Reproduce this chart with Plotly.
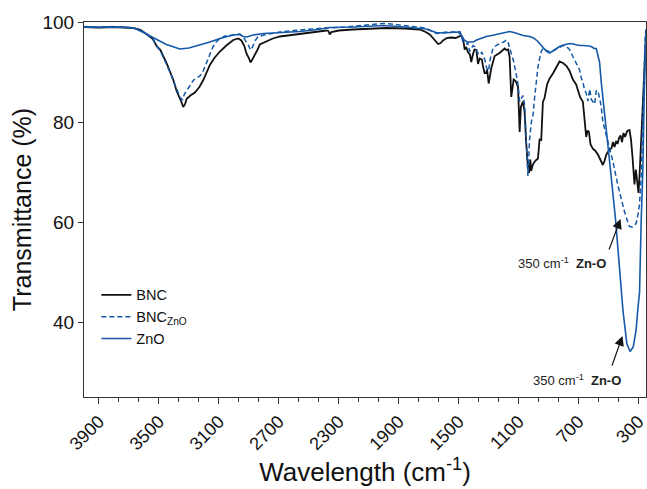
import plotly.graph_objects as go

# ---- data (wavenumber cm-1, transmittance %) ----
bnc_wn = [4000, 3900, 3800, 3700, 3671, 3620, 3582, 3540, 3516, 3490, 3449, 3427, 3404, 3382, 3371, 3350, 3338,
          3325, 3316, 3290, 3260, 3249, 3230, 3204, 3180, 3160, 3130, 3093, 3050, 3004, 2970, 2950, 2930, 2916,
          2900, 2889, 2875, 2860, 2840, 2827, 2782, 2740, 2693, 2620, 2538, 2460, 2382, 2370, 2360, 2350, 2300,
          2207, 2093, 1982, 1860, 1760, 1720, 1693, 1660, 1638, 1620, 1604, 1580, 1549, 1520, 1500, 1482, 1470,
          1460, 1450, 1438, 1425, 1416, 1405, 1395, 1382, 1371, 1360, 1345, 1338, 1327, 1316, 1310, 1300, 1290,
          1282, 1260, 1240, 1227, 1193, 1182, 1170, 1160, 1149, 1140, 1133, 1120, 1104, 1093, 1085, 1071, 1060,
          1050, 1038, 1030, 1022, 1016, 1005, 990, 971, 960, 949, 938, 927, 910, 893, 871, 849, 827, 804, 780,
          760, 738, 716, 690, 671, 660, 649, 640, 631, 620, 604, 590, 571, 555, 538, 527, 516, 505, 493, 480, 470,
          460, 449, 440, 430, 420, 410, 400, 390, 375, 360, 350, 340, 327, 318, 310, 300, 292, 285, 280, 272, 265,
          260, 254, 250]
bnc_t = [99.0, 98.9, 99.0, 98.9, 98.8, 98.4, 97.6, 96.6, 95.2, 94.4, 91.8, 90.1, 88.4, 86.2, 85.5, 84.0, 83.0,
         83.6, 84.6, 85.3, 85.9, 86.3, 87.0, 88.4, 90.0, 91.4, 92.8, 94.1, 95.3, 96.4, 96.7, 96.3, 95.2, 93.7,
         92.8, 91.9, 92.6, 93.4, 94.6, 95.5, 96.2, 96.7, 97.1, 97.4, 97.7, 98.0, 98.3, 98.2, 97.5, 98.0, 98.3,
         98.5, 98.7, 98.8, 98.7, 98.5, 98.0, 97.5, 96.4, 95.6, 95.8, 96.3, 96.8, 96.9, 96.8, 97.0, 97.3, 96.6,
         94.5, 95.0, 94.0, 93.5, 92.0, 93.5, 94.5, 94.4, 91.6, 92.7, 92.5, 91.2, 89.8, 89.8, 90.5, 87.7, 89.5,
         90.8, 93.2, 93.6, 93.8, 94.7, 94.4, 94.5, 93.0, 85.0, 87.5, 88.5, 88.2, 87.0, 78.0, 83.0, 84.1, 82.0,
         76.0, 71.0, 69.8, 72.5, 70.2, 71.5, 72.2, 72.7, 76.5, 76.4, 84.0, 84.8, 87.5, 88.7, 89.7, 91.0, 92.1,
         91.8, 91.2, 90.2, 88.5, 87.5, 85.0, 84.0, 80.5, 77.0, 78.3, 78.0, 75.5, 74.6, 74.3, 73.5, 72.5, 71.4,
         72.2, 73.4, 74.0, 74.4, 74.8, 76.0, 75.0, 76.2, 75.6, 76.8, 77.3, 76.0, 77.8, 77.0, 78.2, 78.4, 76.5,
         73.0, 67.5, 70.5, 68.0, 65.8, 70.0, 74.5, 78.0, 84.0, 89.0, 92.5, 96.0, 97.5]

bncz_wn = [4000, 3900, 3800, 3700, 3671, 3620, 3582, 3540, 3516, 3490, 3449, 3427, 3404, 3382, 3360, 3342, 3330,
           3316, 3304, 3290, 3271, 3250, 3227, 3210, 3193, 3175, 3160, 3140, 3116, 3090, 3060, 3004, 2960, 2938,
           2915, 2900, 2889, 2875, 2860, 2840, 2800, 2740, 2693, 2600, 2500, 2400, 2300, 2200, 2100, 2004, 1950,
           1900, 1800, 1720, 1680, 1649, 1620, 1580, 1530, 1504, 1490, 1471, 1449, 1440, 1427, 1415, 1404, 1390,
           1371, 1360, 1345, 1338, 1325, 1316, 1304, 1298, 1290, 1271, 1250, 1227, 1200, 1182, 1170, 1160, 1145,
           1133, 1120, 1104, 1093, 1082, 1071, 1060, 1050, 1042, 1038, 1033, 1027, 1015, 1004, 993, 982, 971, 960,
           949, 938, 916, 893, 871, 849, 827, 804, 782, 760, 738, 716, 693, 680, 671, 660, 649, 638, 625, 615, 604,
           593, 582, 571, 560, 549, 538, 505, 471, 438, 416, 393, 375, 360, 340, 316, 300, 293, 282, 275, 268, 262,
           256, 250]
bncz_t = [99.1, 99.0, 99.1, 98.9, 98.8, 98.3, 97.6, 96.5, 95.2, 94.2, 91.6, 90.0, 88.3, 86.5, 85.0, 84.4, 85.6,
          86.2, 86.7, 87.4, 88.3, 88.8, 89.2, 89.8, 91.1, 92.5, 93.7, 95.0, 96.1, 96.7, 97.2, 97.4, 97.6, 97.0,
          96.0, 95.2, 94.4, 95.0, 96.2, 97.0, 97.4, 97.8, 98.0, 98.3, 98.6, 98.8, 98.9, 99.2, 99.5, 99.7, 99.6,
          99.4, 99.1, 98.8, 98.2, 97.7, 97.8, 98.0, 98.0, 98.1, 98.0, 96.0, 95.6, 95.9, 94.1, 94.8, 95.3, 95.0,
          93.7, 93.4, 94.0, 93.2, 92.5, 91.1, 90.2, 90.7, 92.5, 94.7, 95.3, 95.7, 96.0, 96.4, 96.0, 94.8, 93.5,
          92.1, 90.2, 87.5, 84.1, 84.8, 85.3, 83.5, 78.0, 73.4, 69.2, 72.0, 76.5, 80.0, 81.4, 85.0, 88.1, 91.0,
          92.7, 94.1, 94.7, 94.4, 94.0, 94.2, 94.6, 95.0, 95.3, 95.1, 94.5, 93.1, 91.8, 90.4, 88.6, 88.0, 86.4,
          85.8, 84.2, 86.6, 84.5, 84.0, 83.6, 86.2, 86.3, 84.8, 83.2, 80.1, 76.1, 72.1, 67.4, 64.5, 62.0, 60.3,
          59.1, 59.0, 59.7, 62.0, 63.7, 69.0, 78.0, 87.0, 93.5, 97.0, 98.5]

zno_wn = [4000, 3900, 3800, 3700, 3660, 3620, 3582, 3540, 3493, 3450, 3400, 3360, 3300, 3227, 3160, 3093, 3030,
          3004, 2960, 2938, 2915, 2890, 2871, 2800, 2700, 2560, 2440, 2360, 2200, 2100, 2000, 1900, 1800, 1720,
          1680, 1650, 1600, 1540, 1504, 1482, 1460, 1440, 1404, 1380, 1350, 1316, 1280, 1227, 1190, 1160, 1130,
          1100, 1070, 1027, 1000, 971, 949, 930, 916, 893, 871, 849, 827, 800, 782, 760, 738, 716, 693, 671, 649,
          627, 610, 596, 582, 571, 560, 549, 527, 505, 482, 453, 427, 404, 378, 356, 335, 316, 305, 293, 282,
          271, 262, 255, 250]
zno_t = [99.0, 98.9, 99.0, 98.9, 98.7, 98.2, 97.6, 96.9, 96.1, 95.5, 95.0, 94.6, 94.8, 95.4, 96.0, 96.7, 97.2,
         97.4, 97.5, 97.1, 97.0, 97.2, 97.4, 97.7, 97.9, 98.1, 98.5, 98.9, 99.0, 99.2, 99.3, 99.1, 98.9, 98.6,
         98.2, 97.9, 97.8, 97.9, 98.0, 97.3, 96.3, 96.0, 96.0, 96.4, 96.8, 97.1, 97.3, 97.7, 97.9, 98.1, 97.9,
         97.6, 97.3, 97.1, 96.8, 96.1, 95.4, 94.8, 94.2, 93.8, 94.2, 94.6, 95.1, 95.4, 95.6, 95.7, 95.6, 95.4,
         95.3, 95.3, 95.3, 95.2, 95.0, 94.7, 94.7, 93.5, 92.0, 88.1, 81.4, 74.7, 69.0, 60.4, 50.4, 42.4, 35.7,
         34.1, 35.0, 38.4, 42.4, 46.0, 60.4, 70.4, 85.0, 95.0, 98.5]

x_ticks = [3900, 3500, 3100, 2700, 2300, 1900, 1500, 1100, 700, 300]
y_ticks = [40, 60, 80, 100]

BLUE = "#1559a8"
FONT = "Liberation Sans, Arial, sans-serif"

fig = go.Figure()
fig.add_trace(go.Scatter(x=bnc_wn, y=bnc_t, mode="lines", name="BNC",
                         line=dict(color="#111111", width=1.8)))
fig.add_trace(go.Scatter(x=bncz_wn, y=bncz_t, mode="lines", name="BNC<sub>ZnO</sub>",
                         line=dict(color=BLUE, width=1.5, dash="5px,3px")))
fig.add_trace(go.Scatter(x=zno_wn, y=zno_t, mode="lines", name="ZnO",
                         line=dict(color=BLUE, width=1.6)))

# annotations (arrows + labels)
arrows = [
    dict(x=420, y=60.6, ax=500, ay=54.2),
    dict(x=407, y=37.2, ax=480, ay=31.0),
]
for a in arrows:
    fig.add_annotation(x=a["x"], y=a["y"], ax=a["ax"], ay=a["ay"], xref="x", yref="y",
                       axref="x", ayref="y", text="", showarrow=True, arrowhead=2,
                       arrowsize=1.6, arrowwidth=1.2, arrowcolor="#111111", standoff=0)
labels = [
    dict(x=813, y=51.8),
    dict(x=713, y=28.4),
]
for l in labels:
    fig.add_annotation(x=l["x"], y=l["y"], xref="x", yref="y", showarrow=False,
                       text="350 cm<sup>-1</sup>  <b>Zn-O</b>",
                       font=dict(family=FONT, size=13, color="#222222"))

fig.update_layout(
    width=647, height=489,
    margin=dict(l=84, r=1, t=22, b=92),
    paper_bgcolor="white", plot_bgcolor="white",
    font=dict(family=FONT, color="#111111"),
    showlegend=True,
    legend=dict(x=0.022, y=0.315, xanchor="left", yanchor="top",
                bgcolor="rgba(0,0,0,0)", font=dict(size=14.5, family=FONT),
                tracegroupgap=0, itemwidth=30),
)
fig.update_xaxes(
    automargin=False,
    range=[4000, 250], tickvals=x_ticks, ticktext=[str(v) for v in x_ticks],
    tickangle=-45, tickfont=dict(size=18), ticks="outside", ticklen=6, tickcolor="#333",
    ticklabeloverflow="allow",
    minor=dict(dtick=400 / 3, tick0=3900, ticks="outside", ticklen=4, tickcolor="#333", showgrid=False),
    showline=True, linecolor="#333", linewidth=1, mirror=True, showgrid=False, zeroline=False,
    title=dict(text="Wavelength (cm<sup>-1</sup>)", font=dict(size=26), standoff=4),
)
fig.update_yaxes(
    automargin=False,
    range=[25, 100], tickvals=y_ticks, tickfont=dict(size=19), ticks="outside", ticklen=5,
    tickcolor="#333", showline=True, linecolor="#333", linewidth=1, mirror=True,
    showgrid=False, zeroline=False,
    title=dict(text="Transmittance (%)", font=dict(size=25), standoff=3),
)

fig.write_html("out.html", config={"displayModeBar": False},
               post_script="document.body.style.margin='0';document.body.style.padding='0';"
                           "document.body.style.overflow='hidden';")
